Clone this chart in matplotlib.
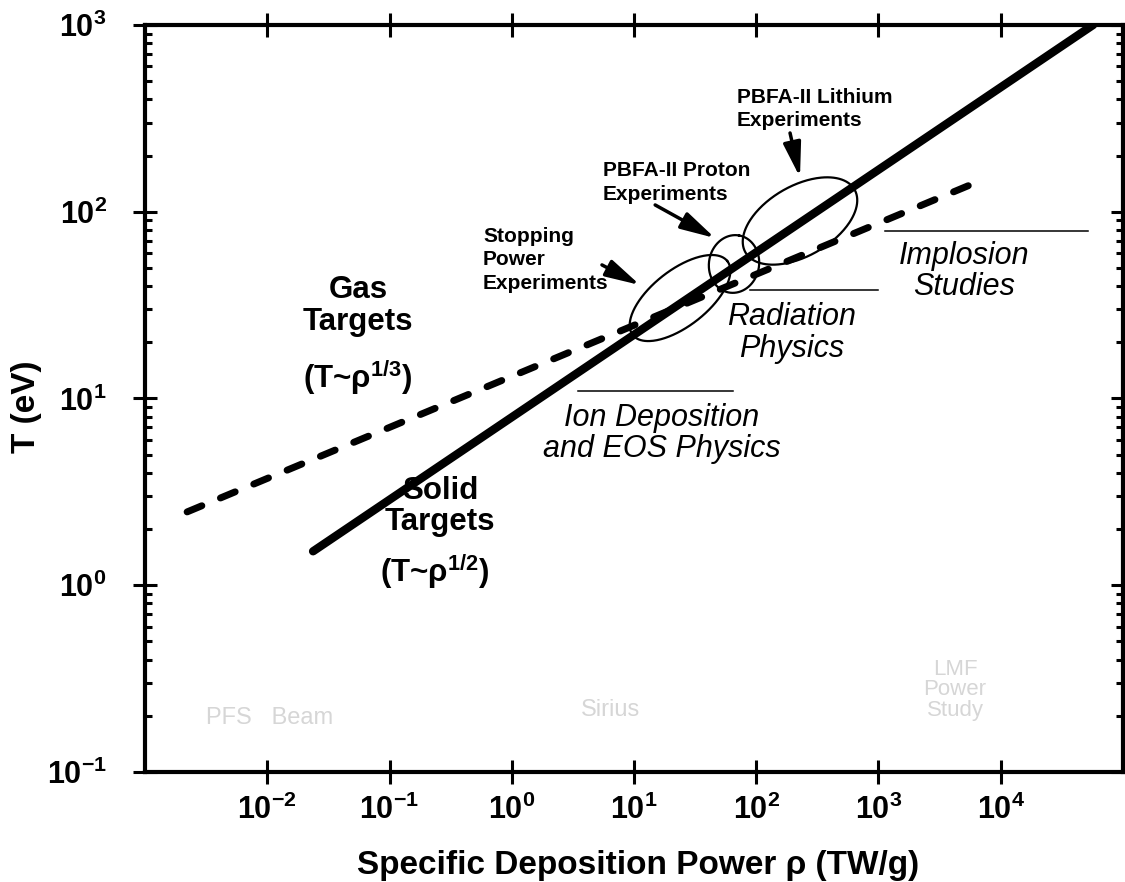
import numpy as np
import matplotlib
matplotlib.use('Agg')
import matplotlib.pyplot as plt
from matplotlib.ticker import FixedLocator, FuncFormatter, LogLocator, NullLocator

plt.rcParams['font.family'] = ['Liberation Sans', 'DejaVu Sans']
plt.rcParams['mathtext.fontset'] = 'custom'
plt.rcParams['mathtext.rm'] = 'Liberation Sans'
plt.rcParams['mathtext.bf'] = 'Liberation Sans:bold'
plt.rcParams['mathtext.it'] = 'Liberation Sans:italic'

# scaling lines (rho in TW/g, T in eV)
solid_rho = [0.0237, 5.7e4]
solid_T = [1.52, 1000]
gas_rho = [2.21e-3, 6150]
gas_T = [2.47, 142.6]

x_ticks = [1e-2, 1e-1, 1e0, 1e1, 1e2, 1e3, 1e4]
y_ticks = [1e-1, 1e0, 1e1, 1e2, 1e3]

# experiment regions: centre, semi-axes (in x-decades on screen), tilt
ell_rho = [23.8, 65.8, 228]
ell_T = [34.5, 52.5, 89.2]
ell_a = [0.491, 0.237, 0.515]
ell_b = [0.229, 0.205, 0.286]
ell_tilt = [38, 80, 30]

# callouts: text, text anchor, arrow tail, arrow head
call_text = ['Stopping\nPower\nExperiments', 'PBFA-II Proton\nExperiments',
             'PBFA-II Lithium\nExperiments']
call_pos = [(0.582, 55.2), (5.57, 143.5), (69.7, 354.6)]
arrow_tail = [(5.47, 51.9), (14.9, 108.7), (189, 264)]
arrow_head = [(11.2, 40.5), (46.0, 72.3), (228, 153)]

# regime labels with their underline
regime_text = ['Ion Deposition\nand EOS Physics', 'Radiation\nPhysics', 'Implosion\nStudies']
regime_pos = [(16.8, 6.49), (196, 22.4), (5000, 47.9)]
regime_line_x = [(3.48, 64.6), (88.9, 991), (1130, 5.18e4)]
regime_line_y = [10.96, 38.1, 78.9]

fig = plt.figure(figsize=(11.25, 8.82), dpi=100)
ax = fig.add_axes([0.1289, 0.1247, 0.8693, 0.847])
ax.set_xscale('log')
ax.set_yscale('log')
ax.set_xlim(1e-3, 1e5)
ax.set_ylim(0.1, 1000)

ax.plot(solid_rho, solid_T, color='k', lw=6, solid_capstyle='round')
ax.plot(gas_rho, gas_T, color='k', lw=5, dashes=(2.3, 2.9), dash_capstyle='round')

# screen ratio of a y-decade to an x-decade
wpx = 0.8693 * 1125
hpx = 0.847 * 882
r = (hpx / 4) / (wpx / 8)
t = np.linspace(0, 2 * np.pi, 300)
for cx, cy, a, b, tilt in zip(ell_rho, ell_T, ell_a, ell_b, ell_tilt):
    th = np.radians(tilt)
    u = a * np.cos(t) * np.cos(th) - b * np.sin(t) * np.sin(th)
    v = a * np.cos(t) * np.sin(th) + b * np.sin(t) * np.cos(th)
    ax.plot(cx * 10 ** u, cy * 10 ** (v / r), color='k', lw=1.6)

for txt, pos, tail, head in zip(call_text, call_pos, arrow_tail, arrow_head):
    ax.text(pos[0], pos[1], txt, fontsize=15, fontweight='bold', ha='left', va='center',
            linespacing=1.3)
    ax.annotate('', xy=head, xytext=tail,
                arrowprops=dict(arrowstyle='-|>,head_length=1.05,head_width=0.27',
                                mutation_scale=20, lw=2.5, color='k',
                                shrinkA=0, shrinkB=0))

for txt, pos, lx, ly in zip(regime_text, regime_pos, regime_line_x, regime_line_y):
    ax.text(pos[0], pos[1], txt, fontsize=22, fontstyle='italic', ha='center', va='center',
            linespacing=1.08)
    ax.plot(lx, [ly, ly], color='k', lw=1.1)

ax.text(0.0552, 31.3, 'Gas\nTargets', fontsize=22.5, fontweight='bold', ha='center',
        va='center', linespacing=1.05)
ax.text(0.0552, 12.9, r'(T~ρ$^{\mathbf{1/3}}$)', fontsize=22.5, fontweight='bold',
        ha='center', va='center')
ax.text(0.26, 2.65, 'Solid\nTargets', fontsize=22.5, fontweight='bold', ha='center',
        va='center', linespacing=1.05)
ax.text(0.235, 1.18, r'(T~ρ$^{\mathbf{1/2}}$)', fontsize=22.5, fontweight='bold',
        ha='center', va='center')

# faint scanned remnants near the bottom
faint = '#d6d6d6'
ax.text(0.0105, 0.195, 'PFS   Beam', fontsize=17, color=faint, ha='center', va='center')
ax.text(6.37, 0.215, 'Sirius', fontsize=17, color=faint, ha='center', va='center')
ax.text(4230, 0.275, 'LMF\nPower\nStudy', fontsize=16, color=faint, ha='center',
        va='center', linespacing=0.95)

fmt = FuncFormatter(lambda v, p: r'$\mathbf{10^{%d}}$' % round(np.log10(v)))
ax.xaxis.set_major_locator(FixedLocator(x_ticks))
ax.xaxis.set_minor_locator(NullLocator())
ax.yaxis.set_major_locator(FixedLocator(y_ticks))
ax.yaxis.set_minor_locator(LogLocator(base=10, subs=np.arange(2, 10)))
ax.xaxis.set_major_formatter(fmt)
ax.yaxis.set_major_formatter(fmt)
ax.tick_params(axis='both', which='major', direction='inout', length=17, width=2.2,
               labelsize=22, top=True, right=True)
ax.tick_params(axis='x', which='major', pad=7.5)
ax.tick_params(axis='y', which='major', pad=19)
ax.tick_params(axis='y', which='minor', direction='in', length=5, width=2.2, right=True)
for s in ax.spines.values():
    s.set_linewidth(3)

ax.set_xlabel('Specific Deposition Power ρ (TW/g)', fontsize=24, fontweight='bold')
ax.set_ylabel('T (eV)', fontsize=24, fontweight='bold')
ax.xaxis.set_label_coords(0.504, -0.105)
ax.yaxis.set_label_coords(-0.105, 0.489)

fig.savefig('out.png', dpi=100, facecolor='white')
